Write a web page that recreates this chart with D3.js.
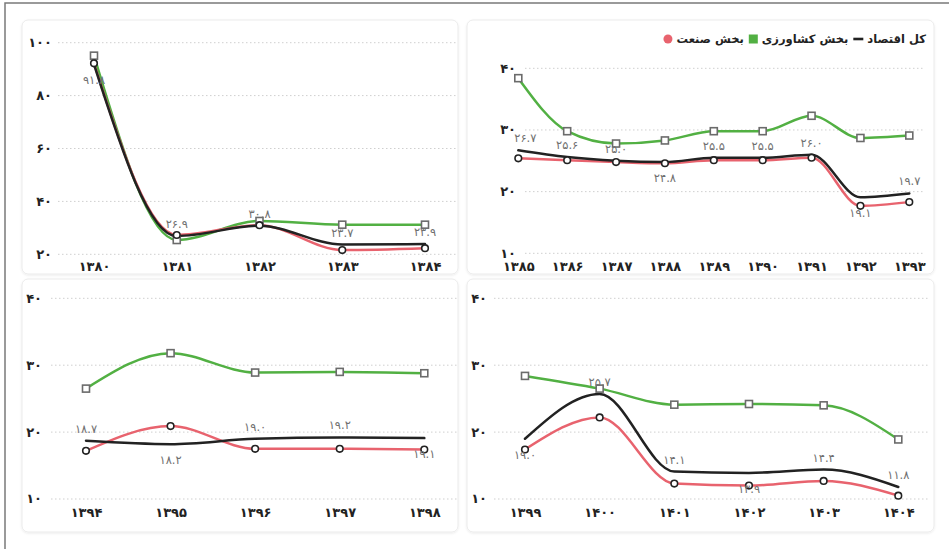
<!DOCTYPE html>
<html lang="fa">
<head>
<meta charset="utf-8">
<script src="https://cdn.jsdelivr.net/npm/d3@7"></script>
<style>
  html, body { margin: 0; padding: 0; background: #fff; }
  svg { display: block; font-family: "DejaVu Sans", sans-serif; }
</style>
</head>
<body>
<svg id="chart" width="949" height="549"></svg>
<script>
// Years (tick labels) for each period
const years1 = ['۱۳۸۰', '۱۳۸۱', '۱۳۸۲', '۱۳۸۳', '۱۳۸۴'];
const years2 = ['۱۳۸۵', '۱۳۸۶', '۱۳۸۷', '۱۳۸۸', '۱۳۸۹', '۱۳۹۰', '۱۳۹۱', '۱۳۹۲', '۱۳۹۳'];
const years3 = ['۱۳۹۴', '۱۳۹۵', '۱۳۹۶', '۱۳۹۷', '۱۳۹۸'];
const years4 = ['۱۳۹۹', '۱۴۰۰', '۱۴۰۱', '۱۴۰۲', '۱۴۰۳', '۱۴۰۴'];

// کل اقتصاد (whole economy)
const total1 = [91.8, 26.9, 30.8, 23.7, 23.9];
const total2 = [26.7, 25.6, 25.0, 24.8, 25.5, 25.5, 26.0, 19.1, 19.7];
const total3 = [18.7, 18.2, 19.0, 19.2, 19.1];
const total4 = [19.0, 25.7, 14.1, 13.9, 14.4, 11.8];

// بخش کشاورزی (agriculture)
const agri1 = [95.1, 25.4, 32.6, 31.2, 31.2];
const agri2 = [38.4, 29.8, 27.8, 28.3, 29.8, 29.8, 32.3, 28.7, 29.1];
const agri3 = [26.5, 31.8, 28.9, 29.0, 28.8];
const agri4 = [28.4, 26.5, 24.1, 24.2, 24.0, 18.9];

// بخش صنعت (industry)
const ind1 = [92.2, 27.3, 31.0, 21.6, 22.3];
const ind2 = [25.4, 25.1, 24.8, 24.6, 25.1, 25.1, 25.5, 17.7, 18.3];
const ind3 = [17.2, 20.9, 17.5, 17.5, 17.4];
const ind4 = [17.4, 22.2, 12.3, 12.0, 12.7, 10.5];

// Y tick values
const ticksA = [20, 40, 60, 80, 100];
const ticksB = [10, 20, 30, 40];

const legendLabels = ['کل اقتصاد', 'بخش کشاورزی', 'بخش صنعت'];

const COLORS = { total: '#222222', agri: '#52b043', ind: '#e8636e' };
const faDigits = '۰۱۲۳۴۵۶۷۸۹';
const fa = s => String(s).replace(/\d/g, d => faDigits[d]);

// Panel layout: card box, plot extents, label placement (1 above, -1 below)
const panels = [
  { years: years1, total: total1, agri: agri1, ind: ind1, ticks: ticksA, domain: [20, 100],
    card: [22, 20, 436, 254], xr: [94, 425], yr: [254.3, 42.7], grid: [58, 457],
    yLabX: 52, xLabY: 267.5, side: [-1, 1, 1, 1, 1] },
  { years: years2, total: total2, agri: agri2, ind: ind2, ticks: ticksB, domain: [10, 40],
    card: [467, 20, 467, 254], xr: [518.3, 909.3], yr: [253.3, 68.3], grid: [525, 925],
    yLabX: 516, xLabY: 267.5, side: [1, 1, 1, -1, 1, 1, 1, -1, 1], legend: true },
  { years: years3, total: total3, agri: agri3, ind: ind3, ticks: ticksB, domain: [10, 40],
    card: [22, 279, 436, 253], xr: [86, 424.3], yr: [499, 298.3], grid: [51, 457],
    yLabX: 42, xLabY: 513, side: [1, -1, 1, 1, -1] },
  { years: years4, total: total4, agri: agri4, ind: ind4, ticks: ticksB, domain: [10, 40],
    card: [467, 279, 467, 253], xr: [525, 898.3], yr: [499, 298.3], grid: [494, 928],
    yLabX: 487, xLabY: 513, side: [-1, 1, 1, -1, 1, 1] }
];

const svg = d3.select('#chart');

const defs = svg.append('defs');
const shadow = defs.append('filter').attr('id', 'cardShadow')
  .attr('x', '-5%').attr('y', '-5%').attr('width', '110%').attr('height', '110%');
shadow.append('feDropShadow').attr('dx', 0).attr('dy', 1).attr('stdDeviation', 1.2)
  .attr('flood-color', '#000').attr('flood-opacity', 0.08);

// outer frame
svg.append('path').attr('d', 'M5,560 L5,3 L960,3')
  .attr('fill', 'none').attr('stroke', '#7a7a7a').attr('stroke-width', 1.5);

const AXIS_FONT = 13;

panels.forEach(p => {
  const g = svg.append('g');
  const [cx, cy, cw, ch] = p.card;
  g.append('rect').attr('x', cx).attr('y', cy).attr('width', cw).attr('height', ch)
    .attr('rx', 6).attr('fill', '#fff').attr('stroke', '#ebebeb').attr('stroke-width', 1)
    .attr('filter', 'url(#cardShadow)');

  const x = d3.scalePoint().domain(p.years).range(p.xr);
  const y = d3.scaleLinear().domain(p.domain).range(p.yr);

  // gridlines
  g.append('g').selectAll('line').data(p.ticks).join('line')
    .attr('x1', p.grid[0]).attr('x2', p.grid[1])
    .attr('y1', d => y(d)).attr('y2', d => y(d))
    .attr('stroke', '#cfcfcf').attr('stroke-width', 1).attr('stroke-dasharray', '1.5,2.5');

  // y axis labels
  const yAxis = d3.axisLeft(y).tickValues(p.ticks).tickFormat(fa).tickSize(0).tickPadding(0);
  const ya = g.append('g').attr('transform', `translate(${p.yLabX},0)`).call(yAxis);
  ya.select('.domain').remove();
  ya.selectAll('text').attr('font-size', AXIS_FONT).attr('font-weight', 'bold').attr('fill', '#222')
    .attr('font-family', '"DejaVu Sans", sans-serif').attr('dy', '0.3em');

  // x axis labels (centred on xLabY)
  const xAxis = d3.axisBottom(x).tickSize(0).tickPadding(0);
  const xa = g.append('g').attr('transform', `translate(0,${p.xLabY})`).call(xAxis);
  xa.select('.domain').remove();
  xa.selectAll('text').attr('font-size', AXIS_FONT).attr('font-weight', 'bold').attr('fill', '#222')
    .attr('font-family', '"DejaVu Sans", sans-serif').attr('y', 0).attr('dy', '0.3em');

  const line = d3.line().x((d, i) => x(p.years[i])).y(d => y(d)).curve(d3.curveMonotoneX);

  [['agri', COLORS.agri], ['ind', COLORS.ind], ['total', COLORS.total]].forEach(([k, c]) => {
    g.append('path').datum(p[k]).attr('d', line)
      .attr('fill', 'none').attr('stroke', c).attr('stroke-width', 2.5)
      .attr('stroke-linejoin', 'round').attr('stroke-linecap', 'round');
  });

  // markers: squares for agriculture, circles for industry
  g.append('g').selectAll('rect').data(p.agri).join('rect')
    .attr('x', (d, i) => x(p.years[i]) - 3.5).attr('y', d => y(d) - 3.5)
    .attr('width', 7).attr('height', 7)
    .attr('fill', '#fff').attr('stroke', '#6b6b6b').attr('stroke-width', 1.6);
  g.append('g').selectAll('circle').data(p.ind).join('circle')
    .attr('cx', (d, i) => x(p.years[i])).attr('cy', d => y(d)).attr('r', 3.3)
    .attr('fill', '#fff').attr('stroke', '#222').attr('stroke-width', 1.6);

  // value labels for the whole-economy line
  g.append('g').selectAll('text').data(p.total).join('text')
    .attr('x', (d, i) => x(p.years[i]) + (p.legend && i === 0 ? 7 : 0))
    .attr('y', (d, i) => y(d) + (p.side[i] > 0 ? -12 : 16) + 4)
    .attr('text-anchor', 'middle').attr('font-size', 11.5).attr('fill', '#707070')
    .text(d => fa(d.toFixed(1)));

  if (p.legend) {
    // right-to-left legend: each label followed by its symbol on the left
    const lg = g.append('g');
    let xr = 926;
    const ly = 39;
    const symbols = ['dash', 'square', 'circle'];
    const colors = [COLORS.total, COLORS.agri, COLORS.ind];
    legendLabels.forEach((lab, i) => {
      const t = lg.append('text').attr('x', xr).attr('y', ly + 4)
        .attr('text-anchor', 'end')
        .attr('font-size', 11.5).attr('font-weight', 'bold').attr('fill', '#222').text(lab);
      const w = t.node().getComputedTextLength();
      xr -= w + 4;
      if (symbols[i] === 'dash') {
        lg.append('rect').attr('x', xr - 10).attr('y', ly - 1.3).attr('width', 10).attr('height', 2.6)
          .attr('fill', colors[i]);
      } else if (symbols[i] === 'square') {
        lg.append('rect').attr('x', xr - 9).attr('y', ly - 4.5).attr('width', 9).attr('height', 9)
          .attr('fill', colors[i]);
      } else {
        lg.append('circle').attr('cx', xr - 4.5).attr('cy', ly).attr('r', 4.5).attr('fill', colors[i]);
      }
      xr -= (symbols[i] === 'dash' ? 10 : 9) + 5;
    });
  }
});
</script>
</body>
</html>
